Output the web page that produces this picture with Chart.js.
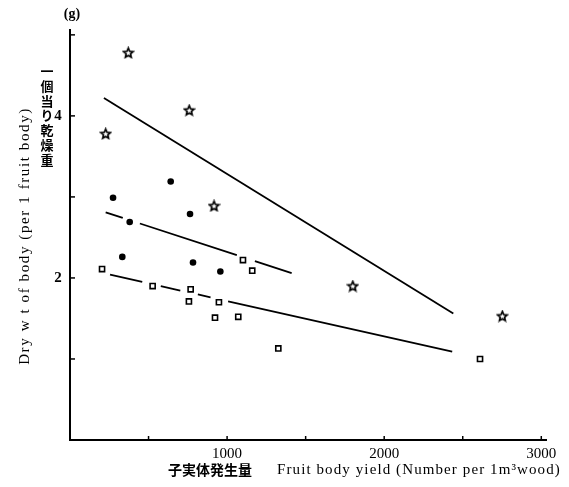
<!DOCTYPE html>
<html lang="ja">
<head>
<meta charset="UTF-8">
<title>Fruit body yield vs dry weight</title>
<script src="https://cdn.jsdelivr.net/npm/chart.js"></script>
<style>
  body { margin: 0; background: #fff; }
  #wrap { width: 569px; height: 487px; }
</style>
</head>
<body>
<div id="wrap"><canvas id="chart" width="569" height="487"></canvas></div>
<script>
// star group
const starX = [371, 227, 759, 917, 1800, 2752]
const starY = [4.78, 3.78, 4.07, 2.89, 1.90, 1.53]
// filled circle group
const circleX = [274, 641, 380, 764, 333, 783, 957]
const circleY = [2.99, 3.19, 2.69, 2.79, 2.26, 2.19, 2.08]
// open square group
const squareX = [204, 526, 768, 757, 948, 923, 1071, 1101, 1160, 1326, 2610]
const squareY = [2.11, 1.90, 1.86, 1.71, 1.70, 1.51, 1.52, 2.22, 2.09, 1.13, 1.00]
// regression lines (end points)
const starFitX = [216, 2440]
const starFitY = [4.22, 1.56]
const circleFitX = [227, 1411]
const circleFitY = [2.81, 2.06]
const squareFitX = [255, 2433]
const squareFitY = [2.04, 1.09]
// axis ticks
const xTicks = [500, 1000, 1500, 2000, 2500, 3000]
const xTickLabels = ["", "1000", "", "2000", "", "3000"]
const yTicks = [1, 2, 3, 4, 5]
const yTickLabels = ["", "2", "", "4", ""]

const pts = (xs, ys) => xs.map((x, i) => ({ x: x, y: ys[i] }))

// hollow five point star marker
function makeStar() {
  const c = document.createElement("canvas")
  c.width = 13
  c.height = 13
  const g = c.getContext("2d")
  g.beginPath()
  for (let i = 0; i < 10; i++) {
    const r = i % 2 === 0 ? 5.0 : 2.3
    const a = -Math.PI / 2 + i * Math.PI / 5
    const px = 6.5 + r * Math.cos(a)
    const py = 6.9 + r * Math.sin(a)
    if (i === 0) g.moveTo(px, py)
    else g.lineTo(px, py)
  }
  g.closePath()
  g.fillStyle = "#fff"
  g.fill()
  g.lineWidth = 1.7
  g.strokeStyle = "#000"
  g.stroke()
  return c
}

const serif = "'Liberation Serif', 'DejaVu Serif', serif"
const cjk = "'Noto Sans CJK JP', sans-serif"

const labelsPlugin = {
  id: "labels",
  afterDraw(chart) {
    const { ctx, chartArea } = chart
    const xs = chart.scales.x
    const ys = chart.scales.y
    ctx.save()
    ctx.strokeStyle = "#000"
    ctx.lineWidth = 1.5
    // inward ticks
    xTicks.forEach((v) => {
      const p = xs.getPixelForValue(v)
      ctx.beginPath()
      ctx.moveTo(p, chartArea.bottom)
      ctx.lineTo(p, chartArea.bottom - 4)
      ctx.stroke()
    })
    yTicks.forEach((v) => {
      const p = ys.getPixelForValue(v)
      ctx.beginPath()
      ctx.moveTo(chartArea.left, p)
      ctx.lineTo(chartArea.left + 5, p)
      ctx.stroke()
    })
    ctx.fillStyle = "#000"
    ctx.font = "15px " + serif
    ctx.textAlign = "center"
    ctx.textBaseline = "middle"
    xTicks.forEach((v, i) => {
      if (xTickLabels[i]) ctx.fillText(xTickLabels[i], xs.getPixelForValue(v), chartArea.bottom + 14)
    })
    ctx.font = "bold 15px " + serif
    yTicks.forEach((v, i) => {
      if (yTickLabels[i]) ctx.fillText(yTickLabels[i], chartArea.left - 12, ys.getPixelForValue(v))
    })
    // unit
    ctx.font = "bold 14px " + serif
    ctx.fillText("(g)", 72, 14)
    // x title
    ctx.textAlign = "left"
    ctx.font = "bold 14px " + cjk
    ctx.fillText("子実体発生量", 168, 470)
    ctx.font = "15px " + serif
    ctx.letterSpacing = "1.1px"
    ctx.fillText("Fruit body yield (Number per 1m³wood)", 277, 470)
    // y title, rotated
    ctx.save()
    ctx.translate(25, 236)
    ctx.rotate(-Math.PI / 2)
    ctx.textAlign = "center"
    ctx.font = "15px " + serif
    ctx.letterSpacing = "1.6px"
    ctx.fillText("Dry w t of body (per 1 fruit body)", 0, 0)
    ctx.restore()
    // vertical Japanese title
    ctx.letterSpacing = "0px"
    ctx.textAlign = "center"
    ctx.font = "bold 13px " + cjk
    const jp = "一個当り乾燥重"
    for (let i = 0; i < jp.length; i++) {
      ctx.fillText(jp[i], 47, 71 + i * 14.8)
    }
    ctx.restore()
  }
}

const line = {
  showLine: true,
  borderColor: "#000",
  borderWidth: 1.8,
  pointRadius: 0,
  fill: false
}

new Chart(document.getElementById("chart"), {
  type: "scatter",
  data: {
    datasets: [
      {
        label: "star",
        data: pts(starX, starY),
        pointStyle: makeStar(),
        pointRadius: 6
      },
      {
        label: "circle",
        data: pts(circleX, circleY),
        pointStyle: "circle",
        pointRadius: 3.3,
        backgroundColor: "#000",
        borderColor: "#000",
        borderWidth: 0
      },
      {
        label: "square",
        data: pts(squareX, squareY),
        pointStyle: "rect",
        pointRadius: 3.6,
        backgroundColor: "#fff",
        borderColor: "#000",
        borderWidth: 1.6
      },
      { ...line, label: "starFit", data: pts(starFitX, starFitY) },
      { ...line, label: "circleFit", data: pts(circleFitX, circleFitY), borderDash: [18, 18, 102, 19, 80] },
      { ...line, label: "squareFit", data: pts(squareFitX, squareFitY), borderDash: [33, 19, 20, 18, 13, 18, 260] }
    ]
  },
  options: {
    responsive: false,
    animation: false,
    layout: { padding: { left: 70, top: 30, right: 23, bottom: 47 } },
    plugins: { legend: { display: false }, tooltip: { enabled: false } },
    scales: {
      x: {
        type: "linear",
        min: 0,
        max: 3030,
        grid: { display: false, drawTicks: false },
        ticks: { display: false },
        border: { display: true, color: "#000", width: 2 }
      },
      y: {
        type: "linear",
        min: 0,
        max: 5.06,
        grid: { display: false, drawTicks: false },
        ticks: { display: false },
        border: { display: true, color: "#000", width: 2 }
      }
    }
  },
  plugins: [labelsPlugin]
})
</script>
</body>
</html>
